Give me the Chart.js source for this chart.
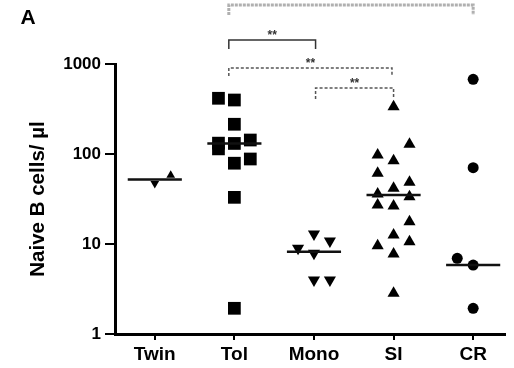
<!DOCTYPE html>
<html><head><meta charset="utf-8">
<script src="https://cdn.jsdelivr.net/npm/chart.js@4/dist/chart.umd.min.js"></script>
<style>html,body{margin:0;padding:0;background:#fff}#wrap{width:514px;height:368px;position:relative}</style>
</head><body><div id="wrap"><canvas id="c"></canvas></div>
<script>
const categories = ['Twin', 'Tol', 'Mono', 'SI', 'CR'];
const twinValues = [47, 58];
const twinColumns = [0, 1];
const tolValues = [416, 398, 214, 132, 114, 131, 143, 79, 88, 33, 1.93];
const tolColumns = [-1, 0, 0, -1, -1, 0, 1, 0, 1, 0, 0];
const monoValues = [12.9, 10.8, 8.96, 7.88, 3.98, 3.98];
const monoColumns = [0, 1, -1, 0, 0, 1];
const siValues = [335, 128, 97.5, 84.3, 61, 48.5, 41.6, 35.9, 33.5, 27.1, 26.4, 17.7, 12.6, 10.6, 9.57, 7.74, 2.83];
const siColumns = [0, 1, -1, 0, -1, 1, 0, -1, 1, -1, 0, 1, 0, 1, -1, 0, 0];
const crValues = [676, 70.5, 6.93, 5.84, 1.93];
const crColumns = [0, 0, -1, 0, 0];
const medians = [52, 131, 8.2, 35, 5.84];
const yTickValues = [1, 10, 100, 1000];
const bracketFrom = [1.93, 1.93, 1.93, 3.02];
const bracketTo = [5, 3.02, 3.98, 4.0];
const bracketLevel = [4525, 1848, 903, 541];
const bracketLabel = ['**', '**', '**', '**'];

const COL = 0.2, HALF = 0.34;
function pts(vals, cols, idx) {
  return vals.map((v, i) => ({ x: idx + 1 + cols[i] * COL, y: v }));
}
const medianData = [];
medians.forEach((m, i) => {
  medianData.push({ x: i + 1 - HALF, y: m }, { x: i + 1 + HALF, y: m }, { x: i + 1.5, y: null });
});

const FONT = "'Liberation Sans', Arial, sans-serif";
const bracketStyles = [
  { color: '#b0b0b0', width: 3, dash: [3, 1], drop: 10 },
  { color: '#333', width: 1.5, dash: [], drop: 9 },
  { color: '#555', width: 1.5, dash: [3, 2], drop: 8 },
  { color: '#555', width: 1.5, dash: [3, 2], drop: 11 }
];

const overlay = {
  id: 'overlay',
  afterDraw(chart) {
    const ctx = chart.ctx, xs = chart.scales.x, ys = chart.scales.y;
    ctx.save();
    bracketLevel.forEach((lv, i) => {
      const st = bracketStyles[i];
      const x1 = xs.getPixelForValue(bracketFrom[i]);
      const x2 = xs.getPixelForValue(bracketTo[i]);
      const y = ys.getPixelForValue(lv);
      ctx.strokeStyle = st.color; ctx.lineWidth = st.width; ctx.setLineDash(st.dash);
      ctx.beginPath();
      ctx.moveTo(x1, y + st.drop); ctx.lineTo(x1, y); ctx.lineTo(x2, y); ctx.lineTo(x2, y + st.drop);
      ctx.stroke();
      ctx.setLineDash([]);
      ctx.fillStyle = '#333';
      ctx.font = 'bold 12px ' + FONT;
      ctx.textAlign = 'center'; ctx.textBaseline = 'alphabetic';
      ctx.fillText(bracketLabel[i], (x1 + x2) / 2, y - 1);
    });
    ctx.fillStyle = '#000';
    ctx.font = 'bold 21px ' + FONT;
    ctx.textAlign = 'center'; ctx.textBaseline = 'middle';
    ctx.fillText('A', 28, 18);
    ctx.restore();
  }
};

const sc = (label, vals, cols, idx, style, r, rot) => ({
  type: 'scatter', label, data: pts(vals, cols, idx),
  pointStyle: style, pointRadius: r, pointRotation: rot,
  backgroundColor: '#000', borderColor: '#000', borderWidth: 0, pointHoverRadius: r
});

new Chart(document.getElementById('c'), {
  data: {
    datasets: [
      { type: 'line', label: 'median', data: medianData, borderColor: '#111', borderWidth: 2.5,
        pointRadius: 0, spanGaps: false, fill: false },
      { type: 'scatter', label: 'Twin', data: pts(twinValues, twinColumns, 0),
        pointStyle: 'triangle', pointRadius: 5, pointRotation: [180, 0],
        backgroundColor: '#000', borderColor: '#000', borderWidth: 0 },
      sc('Tol', tolValues, tolColumns, 1, 'rect', 9, 0),
      sc('Mono', monoValues, monoColumns, 2, 'triangle', 7, 180),
      sc('SI', siValues, siColumns, 3, 'triangle', 7, 0),
      sc('CR', crValues, crColumns, 4, 'circle', 5.5, 0)
    ]
  },
  options: {
    responsive: true, maintainAspectRatio: false, animation: false,
    layout: { padding: { top: 64, right: 2, left: 0, bottom: 0 } },
    plugins: { legend: { display: false }, tooltip: { enabled: false } },
    scales: {
      x: {
        type: 'linear', min: 0.5, max: 5.4,
        afterBuildTicks: s => { s.ticks = categories.map((c, i) => ({ value: i + 1 })); },
        afterFit: s => { s.height = 34; },
        ticks: { callback: v => categories[v - 1], color: '#000', padding: 3,
          font: { family: FONT, size: 19, weight: 'bold' }, maxRotation: 0, autoSkip: false },
        grid: { drawOnChartArea: false, drawTicks: true, tickLength: 6, color: '#000', lineWidth: 2 },
        border: { display: true, color: '#000', width: 3 }
      },
      y: {
        type: 'logarithmic', min: 1, max: 1000,
        afterBuildTicks: s => { s.ticks = yTickValues.map(v => ({ value: v })); },
        afterFit: s => { s.width = 115; },
        ticks: { callback: v => String(v), color: '#000', padding: 4,
          font: { family: FONT, size: 17, weight: 'bold' } },
        grid: { drawOnChartArea: false, drawTicks: true, tickLength: 10, color: '#000', lineWidth: 2 },
        border: { display: true, color: '#000', width: 3 },
        title: { display: true, text: 'Naive B cells/ µl', color: '#000',
          font: { family: FONT, size: 20.5, weight: 'bold' }, padding: { top: 26, bottom: 0 } }
      }
    }
  },
  plugins: [overlay]
});
</script></body></html>
